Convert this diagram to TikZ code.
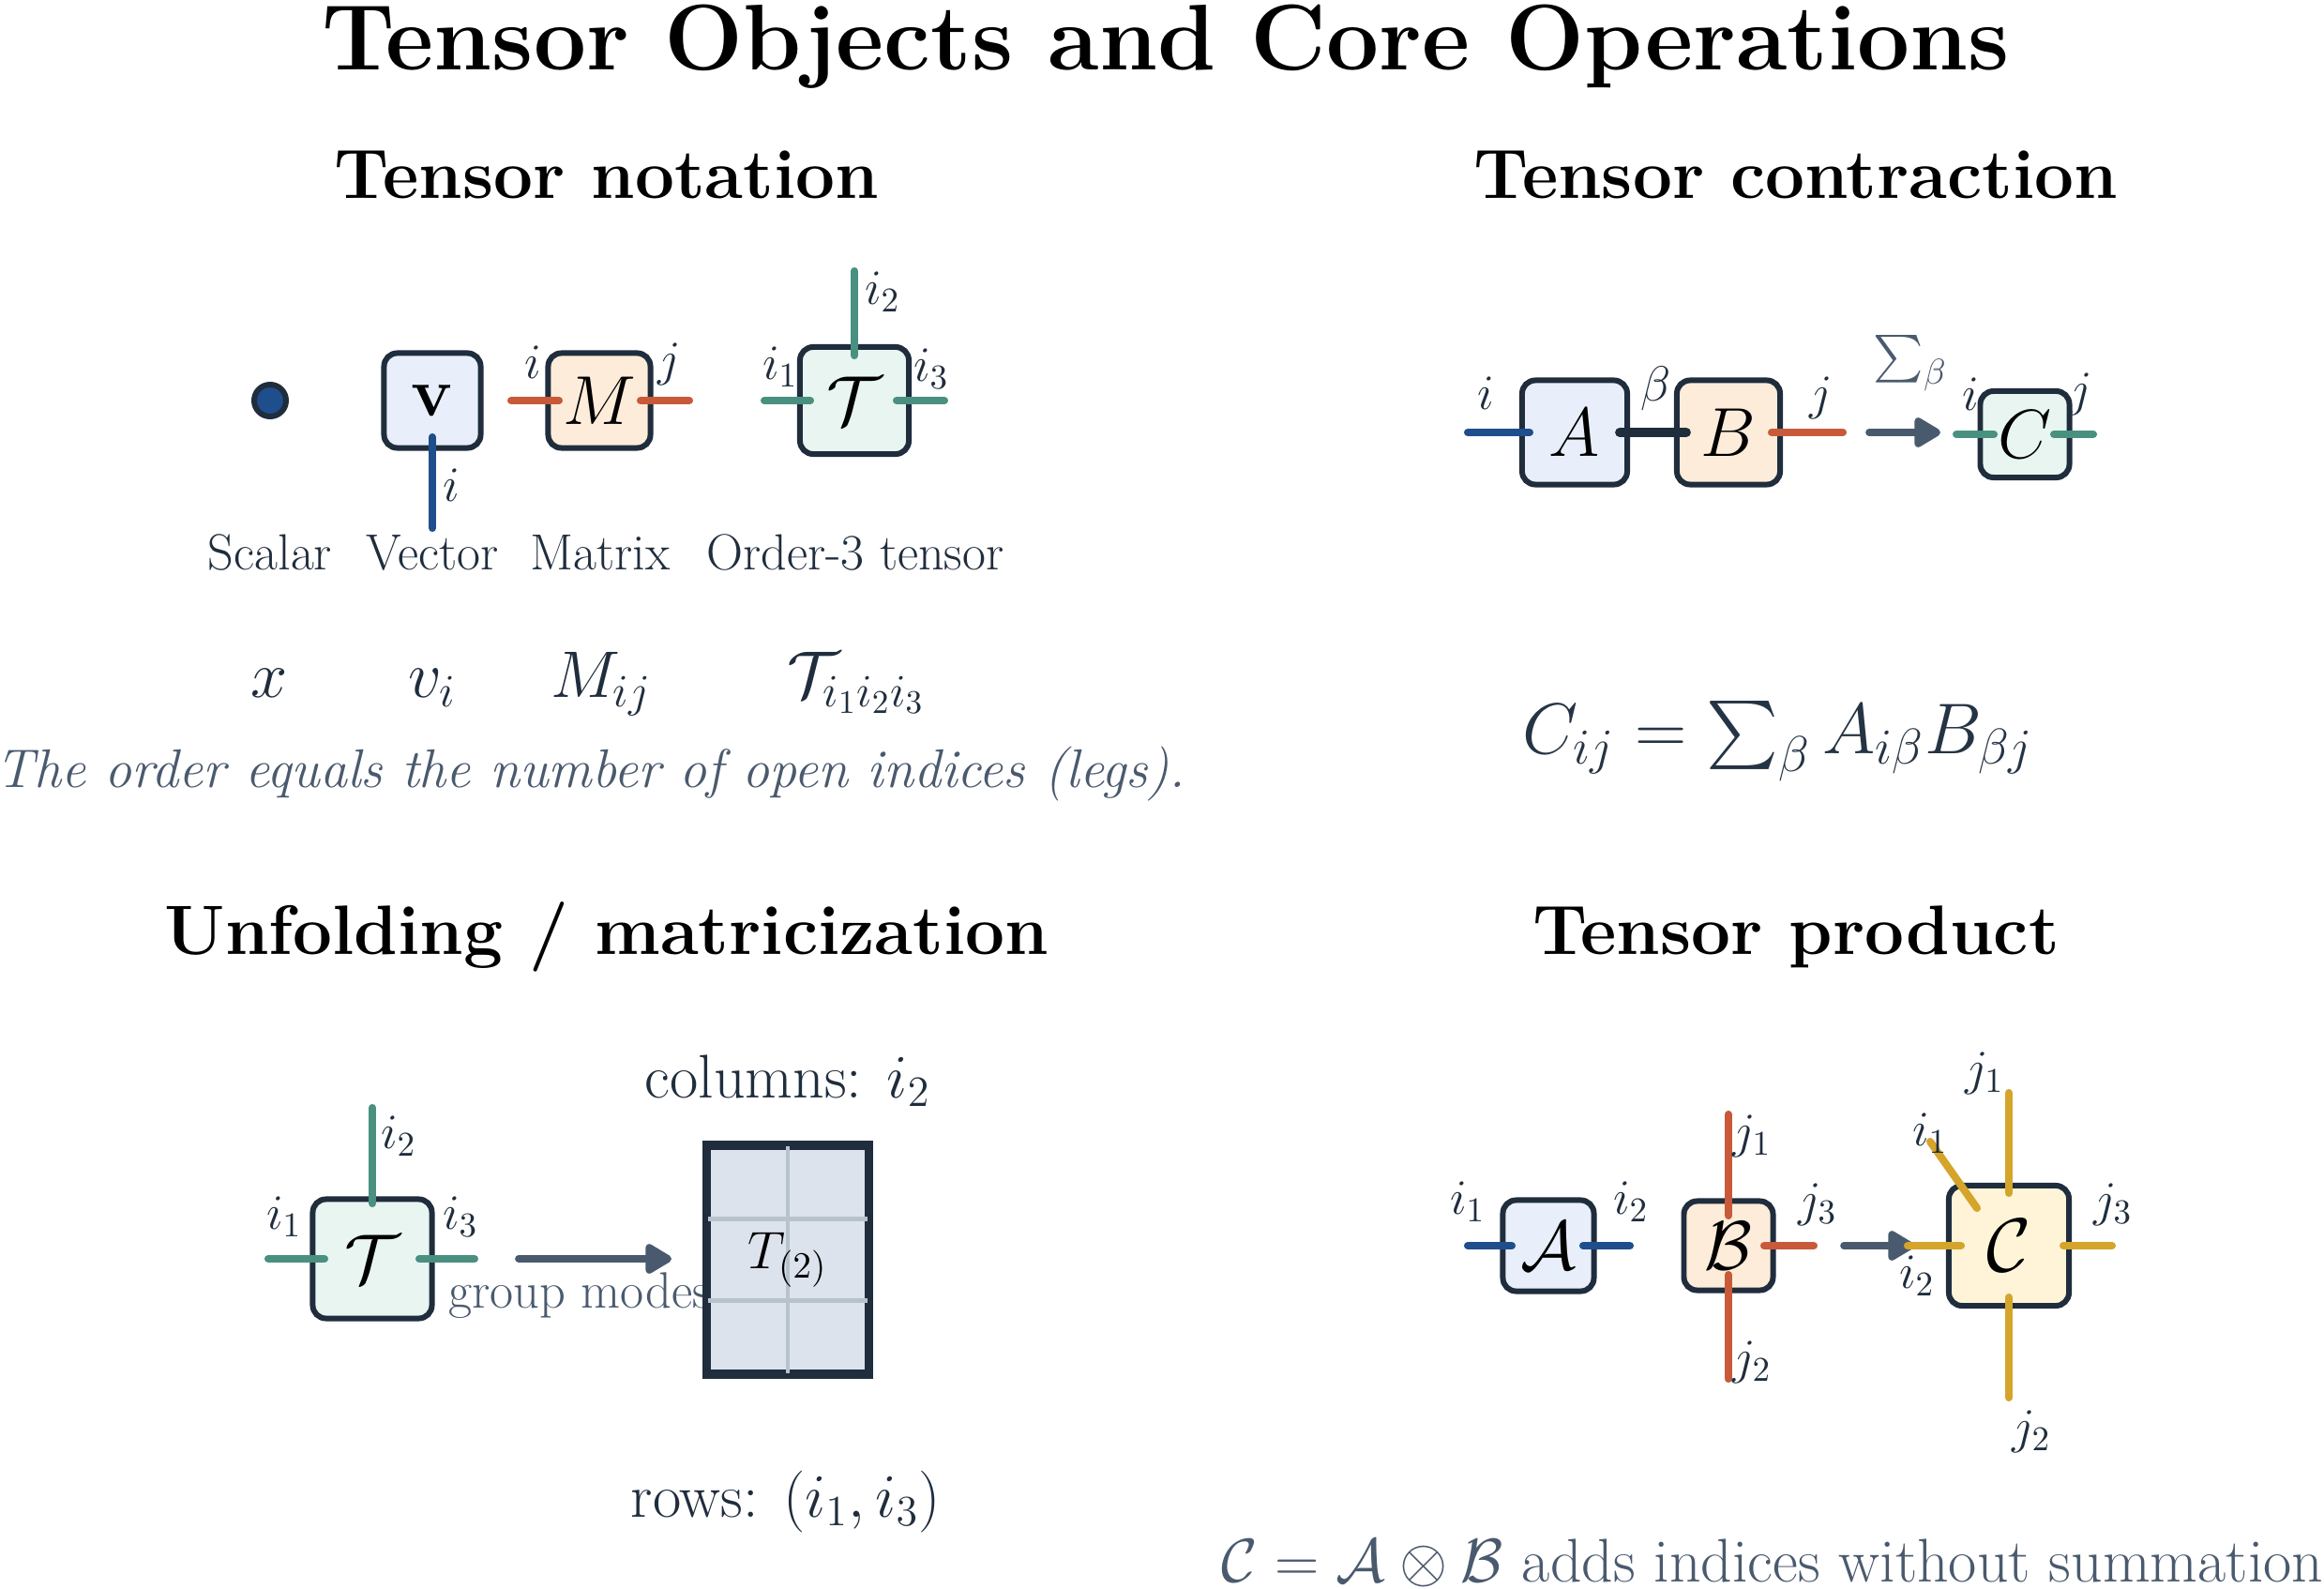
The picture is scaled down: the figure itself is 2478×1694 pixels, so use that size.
\documentclass[tikz,border=0pt]{standalone}
\IfFileExists{fix-cm.sty}{\usepackage{fix-cm}}{}
\usepackage{exscale}
\usetikzlibrary{arrows.meta,calc}
\definecolor{navy}{HTML}{1F2D3D}
\definecolor{dblue}{HTML}{1F4E8C}
\definecolor{orng}{HTML}{C85A3A}
\definecolor{teal2}{HTML}{4A9080}
\definecolor{gold}{HTML}{D4A52A}
\definecolor{slate}{HTML}{4A5A6E}
\definecolor{vfill}{HTML}{E8EFFA}
\definecolor{mfill}{HTML}{FCECD9}
\definecolor{tfill}{HTML}{E8F5F0}
\definecolor{cfill}{HTML}{FFF4D8}
\definecolor{matfill}{HTML}{DCE3ED}
\definecolor{gridc}{HTML}{B8C2CC}
\tikzset{
  tbox/.style={draw=navy, line width=1.7pt, rounded corners=4pt, inner sep=0pt, font=\fontsize{21}{25}\selectfont},
  leg/.style={line width=2.3pt, line cap=round},
  idx/.style={text=navy, inner sep=0pt, font=\fontsize{15}{18}\selectfont},
  arr/.style={draw=slate, line width=2.2pt, line cap=round, -{Triangle[length=9pt,width=10pt,round]}},
  ttl/.style={inner sep=0pt, anchor=base, font=\fontsize{28.3}{34}\bfseries},
  hdg/.style={inner sep=0pt, anchor=base, font=\fontsize{21.2}{25}\bfseries},
  lbl/.style={inner sep=0pt, anchor=base, text=navy, font=\fontsize{15.4}{18}\selectfont},
  mrow/.style={inner sep=0pt, anchor=base, text=navy, font=\fontsize{20}{24}\selectfont},
  note/.style={inner sep=0pt, anchor=base, text=slate},
}
\begin{document}
\begin{tikzpicture}[x=0.01cm,y=-0.01cm]
\useasboundingbox (0,0) rectangle (2478,1694);

% titles
\node[ttl] (title) at (1243,75) {Tensor Objects and Core Operations};
\node[hdg] (h1) at (647,212) {Tensor notation};
\node[hdg] (h2) at (1915,212) {Tensor contraction};
\node[hdg] (h3) at (647,1017) {Unfolding / matricization};
\node[hdg] (h4) at (1915,1017) {Tensor product};

% ---------- Tensor notation ----------
\node[circle, draw=navy, fill=dblue, line width=1.7pt, minimum size=0.34cm, inner sep=0pt] (sc) at (288,427) {};
\node[tbox, fill=vfill, minimum width=1.03cm, minimum height=1.01cm] (v) at (461,427) {$\mathbf{v}$};
\node[tbox, fill=mfill, minimum width=1.09cm, minimum height=1.01cm] (M) at (639,427) {$M$};
\node[tbox, fill=tfill, minimum width=1.16cm, minimum height=1.14cm] (T) at (911,427) {$\mathcal{T}$};

\coordinate (vE) at (461,563);
\draw[leg, dblue] ($(v.center)+(0,39)$) -- (vE);
\coordinate (MlE) at (545,427);
\coordinate (MrE) at (735,427);
\draw[leg, orng] ($(M.center)+(-43,0)$) -- (MlE);
\draw[leg, orng] ($(M.center)+(44,0)$) -- (MrE);
\coordinate (TtE) at (911,289);
\coordinate (TlE) at (815,427);
\coordinate (TrE) at (1007,427);
\draw[leg, teal2] ($(T.center)+(0,-48)$) -- (TtE);
\draw[leg, teal2] ($(T.center)+(-47,0)$) -- (TlE);
\draw[leg, teal2] ($(T.center)+(45,0)$) -- (TrE);

\node[idx] (lvi) at (481,517) {$i$};
\node[idx] (lMi) at (568,386) {$i$};
\node[idx] (lMj) at (714,388) {$j$};
\node[idx] (lT2) at (941,311) {$i_2$};
\node[idx] (lT1) at (832,391) {$i_1$};
\node[idx] (lT3) at (993,393) {$i_3$};

\node[lbl] (tS) at (288,607) {Scalar};
\node[lbl] (tV) at (461,607) {Vector};
\node[lbl] (tM) at (640,607) {Matrix};
\node[lbl] (tT) at (912,607) {Order-3 tensor};

\node[mrow] (mx) at (287,743) {$x$};
\node[mrow] (mv) at (461,743) {$v_i$};
\node[mrow] (mM) at (641,743) {$M_{ij}$};
\node[mrow] (mT) at (913,743) {$\mathcal{T}_{i_1 i_2 i_3}$};

\node[note, font=\fontsize{16.5}{20}\itshape] (n1) at (630,839) {The order equals the number of open indices (legs).};

% ---------- Tensor contraction ----------
\node[tbox, fill=vfill, minimum width=1.12cm, minimum height=1.11cm] (A) at (1679,461) {$A$};
\node[tbox, fill=mfill, minimum width=1.10cm, minimum height=1.11cm] (B) at (1843,461) {$B$};
\node[tbox, fill=tfill, minimum width=0.95cm, minimum height=0.92cm] (C) at (2159,463) {$C$};

\coordinate (AlE) at (1565,461);
\draw[leg, dblue] ($(A.center)+(-48,0)$) -- (AlE);
\draw[leg, navy, line width=2.8pt] ($(A.center)+(48,0)$) -- ($(B.center)+(-45,0)$);
\coordinate (BrE) at (1965,461);
\draw[leg, orng] ($(B.center)+(46,0)$) -- (BrE);
\coordinate (cS) at (1993,461);
\coordinate (cE) at (2069,461);
\draw[arr] (cS) -- (cE);
\coordinate (ClE) at (2086,463);
\coordinate (CrE) at (2232,463);
\draw[leg, teal2] ($(C.center)+(-33,0)$) -- (ClE);
\draw[leg, teal2] ($(C.center)+(31,0)$) -- (CrE);

\node[idx] (lAi) at (1584,419) {$i$};
\node[idx] (lbeta) at (1766,414) {$\beta$};
\node[idx] (lBj) at (1942,424) {$j$};
\node[idx, text=slate, font=\fontsize{15.5}{18}\selectfont] (lsum) at (2037,387) {$\sum_\beta$};
\node[idx] (lCi) at (2101,420) {$i$};
\node[idx] (lCj) at (2219,420) {$j$};

\node[inner sep=0pt, anchor=base, text=navy!85!slate, font=\fontsize{21.8}{26}\selectfont] (eq) at (1896,803) {$C_{ij} = \sum_\beta A_{i\beta} B_{\beta j}$};

% ---------- Unfolding ----------
\node[tbox, fill=tfill, minimum size=1.27cm] (T2) at (397,1342) {$\mathcal{T}$};
\coordinate (T2tE) at (397,1181);
\coordinate (T2lE) at (286,1342);
\coordinate (T2rE) at (506,1342);
\draw[leg, teal2] ($(T2.center)+(0,-59)$) -- (T2tE);
\draw[leg, teal2] ($(T2.center)+(-51,0)$) -- (T2lE);
\draw[leg, teal2] ($(T2.center)+(50,0)$) -- (T2rE);
\node[idx] (lU2) at (425,1211) {$i_2$};
\node[idx] (lU1) at (303,1297) {$i_1$};
\node[idx] (lU3) at (491,1297) {$i_3$};

\coordinate (uS) at (553,1342);
\coordinate (uE) at (716,1342);
\draw[arr] (uS) -- (uE);
\node[note, font=\fontsize{15.5}{18}\selectfont] (gm) at (618,1394) {group modes};

\node[draw=navy, line width=1.8pt, fill=matfill, minimum width=1.70cm, minimum height=2.41cm, inner sep=0pt] (U) at (840,1343) {};
\draw[gridc, line width=1.3pt] (U.north) -- (U.south);
\draw[gridc, line width=1.3pt] ($(U.north west)+(0,80)$) -- ($(U.north east)+(0,80)$);
\draw[gridc, line width=1.3pt] ($(U.south west)+(0,-80)$) -- ($(U.south east)+(0,-80)$);
\draw[navy, line width=1.8pt] (U.north west) rectangle (U.south east);
\node[inner sep=0pt, font=\fontsize{16}{19}\selectfont] (Ulab) at (840,1343) {$T_{(2)}$};

\node[inner sep=0pt, anchor=base, text=navy, font=\fontsize{18.7}{22}\selectfont] (cols) at (840,1170) {columns: $i_2$};
\node[inner sep=0pt, anchor=base, text=navy, font=\fontsize{18.7}{22}\selectfont] (rows) at (838,1617) {rows: $(i_1, i_3)$};

% ---------- Tensor product ----------
\node[tbox, fill=vfill, minimum size=0.97cm] (PA) at (1651,1328) {$\mathcal{A}$};
\node[tbox, fill=mfill, minimum size=0.95cm] (PB) at (1843,1328) {$\mathcal{B}$};

\coordinate (PAlE) at (1565,1328);
\coordinate (PArE) at (1738,1328);
\draw[leg, dblue] ($(PA.center)+(-39,0)$) -- (PAlE);
\draw[leg, dblue] ($(PA.center)+(37,0)$) -- (PArE);
\coordinate (PBtE) at (1843,1188);
\coordinate (PBbE) at (1843,1470);
\coordinate (PBrE) at (1934,1328);
\draw[leg, orng] ($(PB.center)+(0,-32)$) -- (PBtE);
\draw[leg, orng] ($(PB.center)+(0,31)$) -- (PBbE);
\draw[leg, orng] ($(PB.center)+(38,0)$) -- (PBrE);

\coordinate (pS) at (1966,1328);
\coordinate (pE) at (2041,1328);
\draw[arr] (pS) -- (pE);

\node[tbox, fill=cfill, minimum size=1.28cm, font=\fontsize{23}{27}\selectfont] (PC) at (2142,1328) {$\mathcal{C}$};
\coordinate (PCtE) at (2142,1165);
\coordinate (PCbE) at (2142,1490);
\coordinate (PClE) at (2034,1328);
\coordinate (PCrE) at (2252,1328);
\coordinate (PCdE) at (2058,1217);
\draw[leg, gold] ($(PC.center)+(0,-56)$) -- (PCtE);
\draw[leg, gold] ($(PC.center)+(0,55)$) -- (PCbE);
\draw[leg, gold] ($(PC.center)+(-51,0)$) -- (PClE);
\draw[leg, gold] ($(PC.center)+(58,0)$) -- (PCrE);
\draw[leg, gold] ($(PC.center)+(-34,-40)$) -- (PCdE);

\node[idx] (lPA1) at (1565,1281) {$i_1$};
\node[idx] (lPA2) at (1739,1281) {$i_2$};
\node[idx] (lPB1) at (1868,1211) {$j_1$};
\node[idx] (lPB3) at (1938,1284) {$j_3$};
\node[idx] (lPB2) at (1868,1452) {$j_2$};
\node[idx] (lPC1) at (2116,1144) {$j_1$};
\node[idx] (lPCi1) at (2058,1208) {$i_1$};
\node[idx] (lPC3) at (2253,1284) {$j_3$};
\node[idx] (lPCi2) at (2044,1360) {$i_2$};
\node[idx] (lPC2) at (2166,1526) {$j_2$};

\node[note, font=\fontsize{18.7}{22}\selectfont] (n2) at (1890,1686) {$\mathcal{C} = \mathcal{A} \otimes \mathcal{B}$ adds indices without summation};
\end{tikzpicture}
\end{document}
